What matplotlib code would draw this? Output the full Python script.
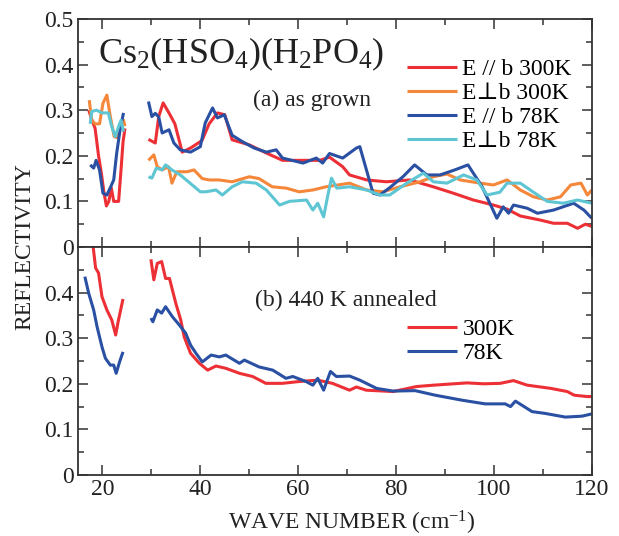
import numpy as np
import matplotlib
matplotlib.use("Agg")
import matplotlib.pyplot as plt
from matplotlib.ticker import MultipleLocator, FuncFormatter

plt.rcParams['font.family'] = ['Liberation Serif', 'DejaVu Serif']
plt.rcParams['mathtext.fontset'] = 'custom'
plt.rcParams['mathtext.rm'] = 'Liberation Serif'
plt.rcParams['mathtext.it'] = 'Liberation Serif:italic'

# ---- (a) as grown ----
# E // b 300K
a_par300_x1 = [17.2, 17.8, 18.5, 19.2, 19.8, 20.3, 20.8, 21.3, 21.8, 22.3, 22.8, 23.3, 23.8, 24.2, 24.6]
a_par300_y1 = [0.30, 0.28, 0.26, 0.20, 0.16, 0.12, 0.09, 0.10, 0.13, 0.10, 0.10, 0.10, 0.17, 0.23, 0.26]
a_par300_x2 = [29.4, 30.8, 31.5, 32.4, 33.8, 34.8, 36.3, 38.0, 40.0, 40.4, 41.8, 43.5, 45.0, 46.5, 50.0,
               53.5, 56.8, 61.0, 64.4, 66.4, 69.1, 70.5, 74.0, 78.0, 82.8, 87.6, 91.7, 95.8, 99.9,
               102.7, 105.4, 109.5, 112.2, 115.0, 117.1, 118.7, 120.0]
a_par300_y2 = [0.236, 0.228, 0.286, 0.316, 0.29, 0.27, 0.208, 0.217, 0.231, 0.235, 0.27, 0.294, 0.29, 0.235, 0.224,
               0.206, 0.19, 0.19, 0.19, 0.197, 0.176, 0.158, 0.147, 0.143, 0.147, 0.132, 0.118, 0.103, 0.092,
               0.083, 0.068, 0.059, 0.052, 0.052, 0.041, 0.05, 0.045]
# E perp b 300K
a_per300_x1 = [17.3, 17.8, 18.5, 19.4, 20.1, 20.9, 21.6, 22.4, 22.9, 23.6, 24.3, 24.6]
a_per300_y1 = [0.322, 0.278, 0.27, 0.27, 0.315, 0.333, 0.286, 0.242, 0.24, 0.27, 0.278, 0.265]
a_per300_x2 = [29.4, 30.5, 31.2, 32.2, 33.5, 34.2, 35.2, 37.3, 38.7, 40.4, 41.8, 43.8, 46.5, 50.0, 52.0,
               54.7, 57.6, 60.2, 63.0, 65.7, 70.5, 74.0, 77.3, 80.8, 84.9, 87.6, 90.4, 93.1, 97.2,
               99.9, 102.7, 105.4, 108.1, 110.9, 113.6, 115.7, 117.8, 119.1, 120.0]
a_per300_y2 = [0.19, 0.202, 0.176, 0.169, 0.176, 0.14, 0.165, 0.165, 0.169, 0.15, 0.147, 0.147, 0.143, 0.154, 0.15,
               0.132, 0.129, 0.121, 0.125, 0.132, 0.14, 0.125, 0.121, 0.132, 0.143, 0.154, 0.16, 0.147, 0.14,
               0.136, 0.147, 0.125, 0.11, 0.103, 0.11, 0.136, 0.14, 0.114, 0.125]
# E // b 78K
a_par78_x1 = [17.5, 18.2, 18.7, 19.4, 20.1, 20.9, 21.6, 22.3, 22.9, 23.6, 24.3]
a_par78_y1 = [0.18, 0.173, 0.19, 0.169, 0.118, 0.114, 0.13, 0.147, 0.205, 0.257, 0.294]
a_par78_x2 = [29.4, 30.1, 30.8, 31.5, 32.2, 33.6, 34.6, 35.9, 38.0, 40.0, 41.0, 42.5, 43.5, 44.9, 46.5,
              48.6, 51.0, 53.5, 55.5, 56.8, 61.0, 63.7, 65.0, 66.4, 69.1, 71.9, 72.6, 75.3, 76.7,
              78.7, 81.4, 83.8, 86.3, 89.0, 92.0, 94.7, 97.6, 100.6, 101.9, 103.0, 104.0, 106.8,
              108.9, 112.2, 116.3, 118.4, 120.0]
a_par78_y2 = [0.319, 0.286, 0.293, 0.285, 0.25, 0.257, 0.228, 0.213, 0.208, 0.22, 0.272, 0.305, 0.283, 0.29, 0.245,
              0.231, 0.217, 0.208, 0.213, 0.195, 0.184, 0.195, 0.184, 0.205, 0.195, 0.217, 0.22, 0.118, 0.114,
              0.13, 0.154, 0.18, 0.158, 0.158, 0.169, 0.18, 0.132, 0.063, 0.088, 0.074, 0.092, 0.085,
              0.074, 0.081, 0.096, 0.081, 0.063]
# E perp b 78K
a_per78_x1 = [17.5, 17.8, 18.8, 19.9, 21.2, 21.9, 22.6, 23.3, 23.8, 24.3]
a_per78_y1 = [0.27, 0.297, 0.30, 0.294, 0.294, 0.264, 0.242, 0.264, 0.278, 0.253]
a_per78_x2 = [29.4, 30.1, 31.0, 32.2, 32.9, 34.2, 35.9, 37.9, 40.0, 41.1, 43.2, 44.5, 46.5, 48.6, 51.4,
              53.5, 56.2, 58.2, 61.7, 63.0, 64.0, 65.2, 66.0, 66.8, 67.9, 70.5, 74.0, 76.7, 78.7,
              82.2, 85.6, 87.6, 90.4, 93.8, 96.5, 98.6, 101.2, 102.7, 105.4, 108.1, 110.9, 114.2,
              117.1, 120.0]
a_per78_y2 = [0.154, 0.151, 0.173, 0.169, 0.18, 0.169, 0.158, 0.14, 0.121, 0.121, 0.125, 0.114, 0.132, 0.143, 0.14,
              0.125, 0.092, 0.10, 0.103, 0.081, 0.096, 0.066, 0.11, 0.151, 0.129, 0.132, 0.125, 0.114, 0.114,
              0.14, 0.162, 0.143, 0.14, 0.158, 0.147, 0.114, 0.12, 0.14, 0.14, 0.12, 0.10, 0.096,
              0.103, 0.096]

# ---- (b) 440 K annealed ----
b_300_x1 = [18.1, 18.6, 19.2, 19.9, 20.9, 21.9, 22.7, 23.2, 24.2]
b_300_y1 = [0.50, 0.454, 0.443, 0.391, 0.362, 0.34, 0.307, 0.336, 0.386]
b_300_x2 = [29.9, 30.5, 31.2, 32.1, 32.9, 33.7, 35.0, 36.0, 36.7, 38.0, 39.8, 41.5, 43.2, 45.2, 48.0,
            50.7, 53.4, 56.8, 60.2, 64.0, 67.0, 70.5, 71.9, 73.9, 79.4, 84.2, 87.7, 94.5, 97.9,
            101.3, 104.0, 106.8, 111.6, 115.0, 116.4, 119.1, 120.0]
b_300_y2 = [0.473, 0.428, 0.464, 0.468, 0.431, 0.431, 0.376, 0.34, 0.303, 0.267, 0.245, 0.23, 0.239, 0.234, 0.223,
            0.216, 0.201, 0.201, 0.205, 0.208, 0.201, 0.186, 0.193, 0.186, 0.183, 0.194, 0.197, 0.202, 0.20,
            0.201, 0.207, 0.197, 0.19, 0.183, 0.175, 0.172, 0.172]
b_78_x1 = [16.4, 17.2, 18.2, 18.9, 19.9, 20.6, 21.6, 22.3, 22.8, 23.5, 24.2]
b_78_y1 = [0.435, 0.398, 0.362, 0.325, 0.281, 0.256, 0.241, 0.241, 0.223, 0.248, 0.27]
b_78_x2 = [29.9, 30.3, 31.2, 32.1, 32.9, 34.3, 35.7, 37.0, 38.0, 39.1, 40.4, 42.2, 43.9, 45.2, 48.0,
           49.0, 52.0, 54.8, 57.5, 58.9, 61.6, 63.0, 64.0, 65.2, 66.6, 67.8, 70.5, 72.6, 76.0,
           79.4, 83.9, 88.0, 93.5, 98.2, 102.3, 103.4, 104.4, 107.8, 110.5, 114.6, 118.0, 120.0]
b_78_y2 = [0.344, 0.336, 0.362, 0.355, 0.369, 0.347, 0.329, 0.311, 0.285, 0.267, 0.248, 0.263, 0.259, 0.263, 0.245,
           0.252, 0.237, 0.23, 0.212, 0.216, 0.205, 0.197, 0.212, 0.186, 0.227, 0.216, 0.217, 0.208, 0.19,
           0.184, 0.185, 0.175, 0.164, 0.156, 0.156, 0.15, 0.162, 0.139, 0.135, 0.127, 0.129, 0.134]

c_red = '#ec3035'
c_orange = '#f5873b'
c_blue = '#2a50a3'
c_cyan = '#5ec6d3'
lw = 2.2
txt = '#222222'

fig = plt.figure(figsize=(6.19, 5.36), dpi=100)
ax1 = fig.add_axes([0.126, 0.5392, 0.830, 0.4254])
ax2 = fig.add_axes([0.126, 0.1138, 0.830, 0.4254], sharex=ax1)

def segs(ax, x1, y1, x2, y2, color, label):
    ax.plot(x1, y1, color=color, lw=lw, solid_capstyle='butt')
    ax.plot(x2, y2, color=color, lw=lw, solid_capstyle='butt', label=label)

segs(ax1, a_par300_x1, a_par300_y1, a_par300_x2, a_par300_y2, c_red, 'E // b 300K')
segs(ax1, a_per300_x1, a_per300_y1, a_per300_x2, a_per300_y2, c_orange, 'E\u22a5b 300K')
segs(ax1, a_par78_x1, a_par78_y1, a_par78_x2, a_par78_y2, c_blue, 'E // b 78K')
segs(ax1, a_per78_x1, a_per78_y1, a_per78_x2, a_per78_y2, c_cyan, 'E\u22a5b 78K')

segs(ax2, b_300_x1, b_300_y1, b_300_x2, b_300_y2, c_red, '300K')
segs(ax2, b_78_x1, b_78_y1, b_78_x2, b_78_y2, c_blue, '78K')

fmt = FuncFormatter(lambda v, p: '0' if abs(v) < 1e-9 else '%.1f' % v)
for ax in (ax1, ax2):
    ax.set_xlim(15, 120)
    ax.set_ylim(0, 0.5)
    ax.xaxis.set_major_locator(MultipleLocator(20))
    ax.xaxis.set_minor_locator(MultipleLocator(10))
    ax.yaxis.set_major_locator(MultipleLocator(0.1))
    ax.yaxis.set_minor_locator(MultipleLocator(0.05))
    ax.yaxis.set_major_formatter(fmt)
    ax.tick_params(which='both', direction='in', top=True, right=True, labelsize=17, colors='#333333')
    ax.tick_params(which='major', length=7, width=1.1)
    ax.tick_params(which='minor', length=4, width=1.1)
    for s in ax.spines.values():
        s.set_linewidth(1.3)
        s.set_color('#333333')
    ax.tick_params(axis='both', labelcolor=txt, pad=3)

ax1.tick_params(labelbottom=False)
ax2.set_yticks([0, 0.1, 0.2, 0.3, 0.4])
ax2.set_ylim(0, 0.5)
ax2.set_xticks([20, 40, 60, 80, 100, 120])

ax1.text(0.038, 0.845, 'Cs$_2$(HSO$_4$)(H$_2$PO$_4$)', transform=ax1.transAxes,
         fontsize=26, va='center', ha='left', color=txt)
ax1.text(0.34, 0.645, '(a) as grown', transform=ax1.transAxes,
         fontsize=17, va='center', ha='left', color=txt)
ax2.text(0.345, 0.765, '(b) 440 K annealed', transform=ax2.transAxes,
         fontsize=17, va='center', ha='left', color=txt)

leg_kw = dict(frameon=False, fontsize=17, handlelength=2.1, handletextpad=0.25,
              labelspacing=0.1, borderaxespad=0)
ax1.legend(loc='upper left', bbox_to_anchor=(0.622, 0.867), **leg_kw)
ax2.legend(loc='upper left', bbox_to_anchor=(0.622, 0.727), **leg_kw)

fig.text(0.04, 0.5392, 'REFLECTIVITY', rotation=90, fontsize=17, ha='center', va='center', color=txt)
fig.text(0.568, 0.024, 'WAVE NUMBER (cm$^{-1}$)', fontsize=17, ha='center', va='center', color=txt)

fig.savefig('out.png', dpi=100)
